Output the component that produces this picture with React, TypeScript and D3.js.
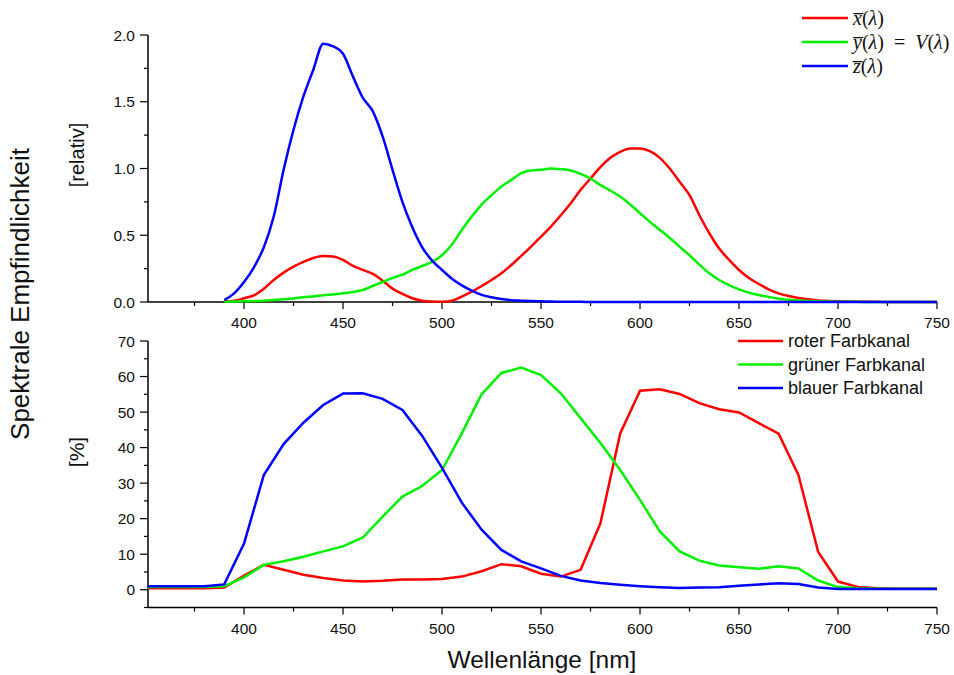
import React, { useEffect, useRef } from 'react'
import * as d3 from 'd3'

// CIE-Normspektralwertkurven (oben), 5 nm Raster ab 390 nm
const cieWl = [390, 395, 400, 405, 410, 415, 420, 425, 430, 435, 440, 445, 450, 455, 460, 465, 470, 475, 480, 485, 490, 495, 500, 505, 510, 515, 520, 525, 530, 535, 540, 545, 550, 555, 560, 565, 570, 575, 580, 585, 590, 595, 600, 605, 610, 615, 620, 625, 630, 635, 640, 645, 650, 655, 660, 665, 670, 675, 680, 685, 690, 695, 700, 710, 720, 730, 740, 750]
const xBar = [0.005, 0.01, 0.028, 0.05, 0.1, 0.165, 0.22, 0.265, 0.3, 0.33, 0.345, 0.34, 0.315, 0.27, 0.24, 0.21, 0.16, 0.1, 0.06, 0.028, 0.01, 0.004, 0.002, 0.01, 0.04, 0.077, 0.12, 0.165, 0.215, 0.277, 0.345, 0.415, 0.49, 0.565, 0.65, 0.74, 0.84, 0.925, 1.01, 1.08, 1.125, 1.15, 1.15, 1.13, 1.08, 1.0, 0.9, 0.8, 0.65, 0.515, 0.4, 0.315, 0.24, 0.18, 0.135, 0.095, 0.065, 0.045, 0.03, 0.02, 0.012, 0.008, 0.005, 0.002, 0.001, 0, 0, 0]
const yBar = [0.001, 0.003, 0.005, 0.007, 0.01, 0.015, 0.02, 0.027, 0.035, 0.042, 0.05, 0.057, 0.065, 0.075, 0.09, 0.12, 0.15, 0.18, 0.205, 0.24, 0.27, 0.3, 0.35, 0.43, 0.54, 0.64, 0.73, 0.8, 0.865, 0.915, 0.965, 0.985, 0.99, 1.0, 0.995, 0.985, 0.96, 0.925, 0.875, 0.835, 0.79, 0.73, 0.665, 0.6, 0.54, 0.48, 0.415, 0.35, 0.28, 0.215, 0.165, 0.127, 0.095, 0.07, 0.052, 0.038, 0.025, 0.017, 0.011, 0.008, 0.005, 0.003, 0.002, 0.001, 0, 0, 0, 0]
const zBar = [0.015, 0.065, 0.15, 0.26, 0.41, 0.64, 0.99, 1.29, 1.54, 1.74, 1.935, 1.915, 1.86, 1.69, 1.53, 1.43, 1.24, 0.99, 0.75, 0.56, 0.41, 0.31, 0.24, 0.175, 0.125, 0.085, 0.053, 0.035, 0.022, 0.014, 0.01, 0.007, 0.005, 0.003, 0.002, 0.001, 0.001, 0, 0, 0, 0, 0, 0, 0, 0, 0, 0, 0, 0, 0, 0, 0, 0, 0, 0, 0, 0, 0, 0, 0, 0, 0, 0, 0, 0, 0, 0, 0]

// Farbkanäle der Kamera (unten), 10 nm Raster
const camWl = [350, 360, 370, 380, 390, 400, 410, 420, 430, 440, 450, 460, 470, 480, 490, 500, 510, 520, 530, 540, 550, 560, 570, 580, 590, 600, 610, 620, 630, 640, 650, 660, 670, 680, 690, 700, 710, 720, 730, 740, 750]
const rot = [0.4, 0.4, 0.4, 0.4, 0.6, 4, 7, 5.6, 4.2, 3.3, 2.6, 2.3, 2.5, 2.9, 2.9, 3.0, 3.7, 5.2, 7.2, 6.6, 4.5, 3.7, 5.6, 18.7, 44, 56, 56.4, 55.1, 52.5, 50.8, 49.9, 46.9, 43.9, 32.3, 10.6, 2.3, 0.8, 0.4, 0.3, 0.3, 0.3]
const gruen = [0.8, 0.8, 0.8, 0.8, 1.0, 3.5, 7, 8.0, 9.3, 10.8, 12.2, 14.7, 20.6, 26.2, 29.2, 33.7, 44, 55, 61, 62.5, 60.4, 55.3, 48.3, 41.3, 33.7, 25.3, 16.4, 10.8, 8.2, 6.8, 6.3, 5.9, 6.6, 6.0, 2.6, 0.75, 0.4, 0.3, 0.3, 0.3, 0.3]
const blau = [1.0, 1.0, 1.0, 1.0, 1.5, 13, 32.3, 41, 47, 52, 55.2, 55.3, 53.7, 50.6, 43.3, 34.3, 24.5, 16.9, 11.2, 8, 6, 3.9, 2.6, 1.9, 1.4, 1.0, 0.7, 0.5, 0.6, 0.7, 1.1, 1.5, 1.8, 1.6, 0.6, 0.2, 0.2, 0.2, 0.2, 0.2, 0.2]

const xTicks = [400, 450, 500, 550, 600, 650, 700, 750]
const yTicksTop = [0, 0.5, 1.0, 1.5, 2.0]
const yTicksBottom = [0, 10, 20, 30, 40, 50, 60, 70]
const camLegend = ['roter Farbkanal', 'grüner Farbkanal', 'blauer Farbkanal']

const RED = '#ff0000'
const GREEN = '#00f000'
const BLUE = '#0000ff'
const FONT = 'Liberation Sans, Arial, sans-serif'

export default function App() {
  const ref = useRef<SVGSVGElement>(null)

  useEffect(() => {
    const svg = d3.select(ref.current)
    svg.selectAll('*').remove()

    const x = d3.scaleLinear().domain([351.5, 750]).range([148, 937])
    const yTop = d3.scaleLinear().domain([0, 2.0]).range([302, 35])
    const yBot = d3.scaleLinear().domain([-5, 70]).range([607.5, 341])

    svg.append('defs').append('clipPath').attr('id', 'clipBot')
      .append('rect').attr('x', 148).attr('y', 330).attr('width', 792).attr('height', 280)

    const drawXAxis = (yPos: number, labelY: number) => {
      const g = svg.append('g')
      g.append('line').attr('x1', 148).attr('x2', 937).attr('y1', yPos).attr('y2', yPos)
        .attr('stroke', '#000').attr('stroke-width', 1.5)
      d3.range(375, 751, 25).forEach(v => {
        const major = v % 50 === 0
        g.append('line').attr('x1', x(v)).attr('x2', x(v)).attr('y1', yPos).attr('y2', yPos + (major ? 7 : 4))
          .attr('stroke', '#000').attr('stroke-width', 1.2)
      })
      xTicks.forEach(v => {
        g.append('text').attr('x', x(v)).attr('y', labelY).attr('text-anchor', 'middle')
          .attr('font-family', FONT).attr('font-size', 15.5).attr('fill', '#111').text(v)
      })
    }

    const drawYAxis = (y: d3.ScaleLinear<number, number>, ticks: number[], minor: number[], fmt: (v: number) => string) => {
      const g = svg.append('g')
      const [r0, r1] = y.range()
      g.append('line').attr('x1', 148).attr('x2', 148).attr('y1', r0).attr('y2', r1)
        .attr('stroke', '#000').attr('stroke-width', 1.5)
      minor.forEach(v => {
        g.append('line').attr('x1', 148).attr('x2', 144).attr('y1', y(v)).attr('y2', y(v))
          .attr('stroke', '#000').attr('stroke-width', 1.2)
      })
      ticks.forEach(v => {
        g.append('line').attr('x1', 148).attr('x2', 140).attr('y1', y(v)).attr('y2', y(v))
          .attr('stroke', '#000').attr('stroke-width', 1.2)
        g.append('text').attr('x', 135).attr('y', y(v)).attr('dy', '0.36em').attr('text-anchor', 'end')
          .attr('font-family', FONT).attr('font-size', 15.5).attr('fill', '#111').text(fmt(v))
      })
    }

    // oberes Diagramm
    drawYAxis(yTop, yTicksTop, [0.25, 0.75, 1.25, 1.75], v => v.toFixed(1))
    drawXAxis(302, 328)

    const lineTop = d3.line<number>()
      .x((_, i) => x(cieWl[i]))
      .y(d => yTop(d))
      .curve(d3.curveMonotoneX)
    ;[[xBar, RED], [yBar, GREEN], [zBar, BLUE]].forEach(([vals, col]) => {
      svg.append('path').attr('d', lineTop(vals as number[]) as string)
        .attr('fill', 'none').attr('stroke', col as string).attr('stroke-width', 2.5)
    })

    // unteres Diagramm
    drawYAxis(yBot, yTicksBottom, [-5, 5, 15, 25, 35, 45, 55, 65], v => String(v))
    drawXAxis(607.5, 633.5)

    const lineBot = d3.line<number>()
      .x((_, i) => x(camWl[i]))
      .y(d => yBot(d))
    ;[[rot, RED], [gruen, GREEN], [blau, BLUE]].forEach(([vals, col]) => {
      svg.append('path').attr('d', lineBot(vals as number[]) as string)
        .attr('clip-path', 'url(#clipBot)')
        .attr('fill', 'none').attr('stroke', col as string).attr('stroke-width', 2.5)
    })

    // Legende oben (Formelsatz)
    const mathLegend = svg.append('g').attr('font-family', 'Liberation Serif, DejaVu Serif, serif').attr('font-size', 20)
    const rows: [string, string][] = [[RED, 'x'], [GREEN, 'y'], [BLUE, 'z']]
    rows.forEach(([col, sym], i) => {
      const cy = 18 + i * 24
      mathLegend.append('line').attr('x1', 802).attr('x2', 848).attr('y1', cy).attr('y2', cy)
        .attr('stroke', col).attr('stroke-width', 2.5)
      const t = mathLegend.append('text').attr('x', 853).attr('y', cy + 7).attr('fill', '#111')
      t.append('tspan').attr('font-style', 'italic').text(sym + '\u0305')
      t.append('tspan').text('(')
      t.append('tspan').attr('font-style', 'italic').text('λ')
      t.append('tspan').text(')')
      if (sym === 'y') {
        t.append('tspan').attr('xml:space', 'preserve').text('\u00a0\u00a0=\u00a0\u00a0')
        t.append('tspan').attr('font-style', 'italic').text('V')
        t.append('tspan').text('(')
        t.append('tspan').attr('font-style', 'italic').text('λ')
        t.append('tspan').text(')')
      }
    })

    // Legende unten
    const colsBot = [RED, GREEN, BLUE]
    camLegend.forEach((label, i) => {
      const cy = 341 + i * 23.5
      svg.append('line').attr('x1', 738).attr('x2', 783).attr('y1', cy).attr('y2', cy)
        .attr('stroke', colsBot[i]).attr('stroke-width', 2.5)
      svg.append('text').attr('x', 788).attr('y', cy).attr('dy', '0.36em')
        .attr('font-family', FONT).attr('font-size', 18).attr('fill', '#111').text(label)
    })

    // Achsentitel
    svg.append('text').attr('x', 542).attr('y', 668).attr('text-anchor', 'middle')
      .attr('font-family', FONT).attr('font-size', 24.5).attr('fill', '#111').text('Wellenlänge [nm]')
    svg.append('text').attr('transform', 'translate(29,294) rotate(-90)').attr('text-anchor', 'middle')
      .attr('font-family', FONT).attr('font-size', 26).attr('fill', '#111').text('Spektrale Empfindlichkeit')
    svg.append('text').attr('transform', 'translate(84,155) rotate(-90)').attr('text-anchor', 'middle')
      .attr('font-family', FONT).attr('font-size', 20).attr('fill', '#111').text('[relativ]')
    svg.append('text').attr('transform', 'translate(84,452) rotate(-90)').attr('text-anchor', 'middle')
      .attr('font-family', FONT).attr('font-size', 21).attr('fill', '#111').text('[%]')
  }, [])

  return (
    <svg ref={ref} width={954} height={675}
      style={{ position: 'absolute', left: 0, top: 0, background: '#fff' }} />
  )
}
